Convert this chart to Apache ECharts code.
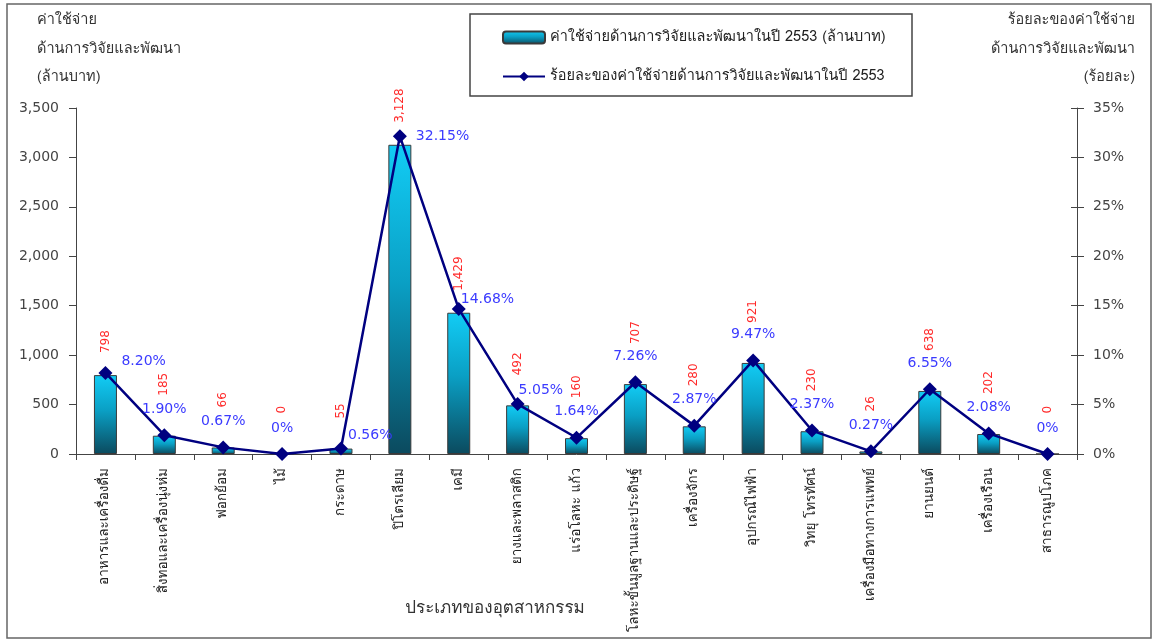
<!DOCTYPE html>
<html>
<head>
<meta charset="utf-8">
<script src="https://cdn.jsdelivr.net/npm/echarts@6/dist/echarts.min.js"></script>
<style>
  html, body { margin: 0; padding: 0; background: #fff; }
  #chart { width: 1159px; height: 643px; }
</style>
</head>
<body>
<div id="chart"></div>
<script>
// R&D spending by industry, year 2553
const industries = [
  'อาหารและเครื่องดื่ม', 'สิ่งทอและเครื่องนุ่งห่ม', 'ฟอกย้อม', 'ไม้', 'กระดาษ',
  'ปิโตรเลียม', 'เคมี', 'ยางและพลาสติก', 'แร่อโลหะ แก้ว', 'โลหะขั้นมูลฐานและประดิษฐ์',
  'เครื่องจักร', 'อุปกรณ์ไฟฟ้า', 'วิทยุ โทรทัศน์', 'เครื่องมือทางการแพทย์', 'ยานยนต์',
  'เครื่องเรือน', 'สาธารณูปโภค'
];
// spending, million baht
const spending = [798, 185, 66, 0, 55, 3128, 1429, 492, 160, 707, 280, 921, 230, 26, 638, 202, 0];
// share of total spending, percent
const share = [8.20, 1.90, 0.67, 0, 0.56, 32.15, 14.68, 5.05, 1.64, 7.26, 2.87, 9.47, 2.37, 0.27, 6.55, 2.08, 0];

const barName = 'ค่าใช้จ่ายด้านการวิจัยและพัฒนาในปี 2553 (ล้านบาท)';
const lineName = 'ร้อยละของค่าใช้จ่ายด้านการวิจัยและพัฒนาในปี 2553';
const leftTitle = ['ค่าใช้จ่าย', 'ด้านการวิจัยและพัฒนา', '(ล้านบาท)'];
const rightTitle = ['ร้อยละของค่าใช้จ่าย', 'ด้านการวิจัยและพัฒนา', '(ร้อยละ)'];
const xTitle = 'ประเภทของอุตสาหกรรม';

const thaiFont = "Loma, Tahoma, Garuda, 'Noto Sans Thai', 'Noto Sans', sans-serif";
const numFont = "'DejaVu Sans', Verdana, sans-serif";

// percentage labels that sit beside the marker (index -> [dx, dy] nudge)
const sideLabels = { 0: [1, -12], 4: [-8, -13], 5: [1, 0], 6: [-13, -10], 7: [-14, -14] };
const isSide = i => Object.prototype.hasOwnProperty.call(sideLabels, i);
// gap between bar top and its value label
const valueGap = i => (i === 4 || i === 7) ? 30 : (isSide(i) ? 22 : 40);

const barData = spending.map((v, i) => ({
  value: v,
  label: { distance: valueGap(i) }
}));
const lineData = share.map((v, i) => isSide(i)
  ? { value: v, label: { position: 'right', distance: 8, offset: sideLabels[i] } }
  : { value: v });

const fmtPct = v => (v === 0 ? '0' : v.toFixed(2)) + '%';

const chart = echarts.init(document.getElementById('chart'), null, { renderer: 'canvas' });

function titleLines(lines, x, align) {
  return lines.map((t, i) => ({
    type: 'text', x: x, y: 21 + i * 28.5,
    style: { text: t, fill: '#333', font: '14.5px ' + thaiFont, textAlign: align, textVerticalAlign: 'middle' }
  }));
}

chart.setOption({
  backgroundColor: '#fff',
  animation: false,
  grid: { left: 76, right: 82, top: 108, bottom: 189, containLabel: false },
  legend: {
    left: 497, top: 25, orient: 'vertical', itemGap: 24,
    itemWidth: 42, itemHeight: 12,
    textStyle: { fontFamily: thaiFont, fontSize: 14.5, color: '#222' },
    data: [barName, lineName]
  },
  xAxis: {
    type: 'category',
    data: industries,
    axisLine: { lineStyle: { color: '#444', width: 1 } },
    axisTick: { show: true, length: 6, lineStyle: { color: '#444' } },
    axisLabel: { interval: 0, rotate: 90, fontFamily: thaiFont, fontSize: 13.5, color: '#222', margin: 14 }
  },
  yAxis: [
    {
      type: 'value', min: 0, max: 3500, interval: 500,
      axisLine: { show: true, lineStyle: { color: '#444' } },
      axisTick: { show: true, length: 7, lineStyle: { color: '#444' } },
      splitLine: { show: false },
      axisLabel: {
        fontFamily: numFont, fontSize: 14, color: '#444', margin: 17,
        formatter: v => v.toLocaleString('en-US')
      }
    },
    {
      type: 'value', min: 0, max: 35, interval: 5, position: 'right',
      axisLine: { show: true, lineStyle: { color: '#444' } },
      axisTick: { show: true, length: 7, lineStyle: { color: '#444' } },
      splitLine: { show: false },
      axisLabel: { fontFamily: numFont, fontSize: 14, color: '#444', margin: 16, formatter: '{value}%' }
    },
    {
      // inner half of the crossing ticks on the right axis
      type: 'value', min: 0, max: 35, interval: 5, position: 'right',
      axisLine: { show: false },
      axisTick: { show: true, inside: true, length: 6, lineStyle: { color: '#444' } },
      axisLabel: { show: false },
      splitLine: { show: false }
    }
  ],
  series: [
    {
      name: barName,
      type: 'bar',
      yAxisIndex: 0,
      barWidth: 23,
      data: barData,
      itemStyle: {
        color: new echarts.graphic.LinearGradient(0, 0, 0, 1, [
          { offset: 0, color: '#12ccf5' },
          { offset: 0.45, color: '#0a9fc4' },
          { offset: 1, color: '#0b4a5e' }
        ]),
        borderColor: '#3a3a3a',
        borderWidth: 1
      },
      label: {
        show: true, position: 'top', rotate: 90, align: 'left', verticalAlign: 'middle',
        color: '#ff2a2a', fontFamily: numFont, fontSize: 12,
        formatter: p => p.value.toLocaleString('en-US')
      }
    },
    {
      name: lineName,
      type: 'line',
      yAxisIndex: 1,
      data: lineData,
      symbol: 'diamond',
      symbolSize: 14,
      lineStyle: { color: '#000080', width: 2.5 },
      itemStyle: { color: '#000080' },
      label: {
        show: true, position: 'top', distance: 12,
        color: '#3b3bff', fontFamily: numFont, fontSize: 14,
        formatter: p => fmtPct(p.value)
      },
      z: 5
    }
  ],
  graphic: [
    // outer frame
    { type: 'rect', shape: { x: 7, y: 4, width: 1144, height: 634 },
      style: { fill: null, stroke: '#666', lineWidth: 1.5 }, silent: true },
    // legend frame
    { type: 'rect', shape: { x: 470, y: 14, width: 442, height: 82 },
      style: { fill: null, stroke: '#444', lineWidth: 1.5 }, silent: true },
    ...titleLines(leftTitle, 37, 'left'),
    ...titleLines(rightTitle, 1135, 'right'),
    { type: 'text', x: 495, y: 609,
      style: { text: xTitle, fill: '#333', font: '17px ' + thaiFont, textAlign: 'center', textVerticalAlign: 'middle' } }
  ]
});
</script>
</body>
</html>
